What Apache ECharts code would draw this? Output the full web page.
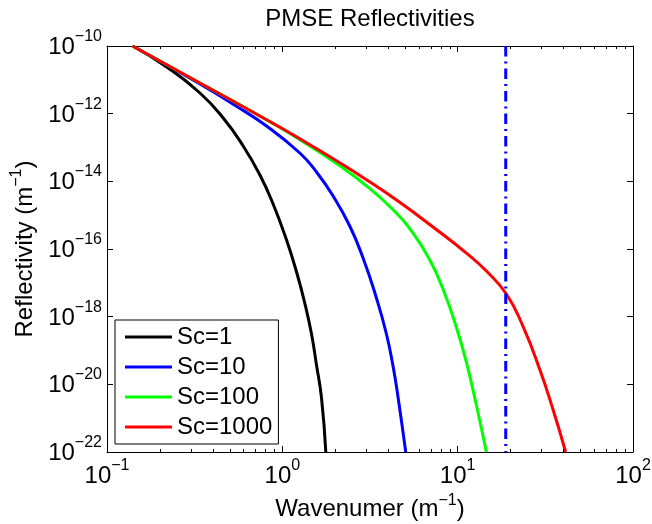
<!DOCTYPE html>
<html>
<head>
<meta charset="utf-8">
<script src="https://cdn.jsdelivr.net/npm/echarts@6/dist/echarts.min.js"></script>
<style>
  html, body { margin: 0; padding: 0; background: #fff; }
  #chart { width: 652px; height: 524px; }
</style>
</head>
<body>
<div id="chart"></div>
<script>
// PMSE reflectivity versus radar Bragg wavenumber for several Schmidt numbers
const seriesNames = ['Sc=1', 'Sc=10', 'Sc=100', 'Sc=1000'];

const wavenumberSc1 = [0.14, 0.219, 0.339, 0.460, 0.598, 0.745, 0.886, 1.057, 1.205, 1.343, 1.467, 1.566, 1.673, 1.77];
const reflectivitySc1 = [1e-10, 2.39e-11, 4.08e-12, 7.44e-13, 1.11e-13, 1.54e-14, 2.14e-15, 1.84e-16, 2.09e-17, 2.53e-18, 3.07e-19, 3.72e-20, 3.94e-21, 1e-22];

const wavenumberSc10 = [0.14, 0.339, 0.522, 0.813, 1.258, 1.566, 1.948, 2.424, 2.887, 3.441, 3.924, 4.279, 4.569, 5.056];
const reflectivitySc10 = [1e-10, 7.53e-12, 1.93e-12, 4.31e-13, 6.87e-14, 1.89e-14, 3.68e-15, 4.78e-16, 5.41e-17, 3.56e-18, 3.07e-19, 3.47e-20, 4.22e-21, 1e-22];

const wavenumberSc100 = [0.14, 0.339, 0.813, 1.258, 1.948, 3.018, 4.279, 5.564, 6.926, 8.245, 9.83, 11.21, 12.79, 14.58];
const reflectivitySc100 = [1e-10, 8.05e-12, 6.62e-13, 1.70e-13, 3.94e-14, 7.38e-15, 1.45e-15, 2.94e-16, 4.79e-17, 6.56e-18, 4.88e-19, 4.50e-20, 2.41e-21, 1e-22];

const wavenumberSc1000 = [0.14, 0.339, 0.813, 1.258, 1.948, 3.018, 4.672, 7.232, 11.21, 14.58, 18.95, 23.55, 29.33, 34.91, 41.3];
const reflectivitySc1000 = [1e-10, 8.05e-12, 6.62e-13, 1.82e-13, 4.67e-14, 1.12e-14, 2.40e-15, 4.47e-16, 7.6e-17, 2.23e-17, 4.67e-18, 5.28e-19, 2.83e-20, 1.86e-21, 1e-22];

// radar wavenumber marked by the dash-dot line
const radarWavenumber = 18.8;

// axis ranges, tick values and minor tick positions
const xRange = [0.1, 100];
const yRange = [1e-22, 1e-10];
const yTickValues = [1e-22, 1e-20, 1e-18, 1e-16, 1e-14, 1e-12, 1e-10];
const xMinorTicks = [0.2, 0.3, 0.4, 0.5, 0.6, 0.7, 0.8, 0.9,
                     2, 3, 4, 5, 6, 7, 8, 9,
                     20, 30, 40, 50, 60, 70, 80, 90];

const FONT = '"Liberation Sans", Arial, Helvetica, sans-serif';
const colors = ['#000000', '#0000ff', '#00ff00', '#ff0000'];

function pairs(xs, ys) { return xs.map((x, i) => [x, ys[i]]); }

function powerLabel(v) {
  const e = Math.round(Math.log10(v));
  const txt = e < 0 ? '\u2212' + Math.abs(e) : String(e);
  return '{b|10}{s|' + txt + '}';
}

// compact label boxes: the exponent is lifted with asymmetric padding
const tickRich = {
  b: { fontFamily: FONT, fontSize: 24, lineHeight: 4, padding: [3, 0, 0, 0], color: '#000' },
  s: { fontFamily: FONT, fontSize: 16, lineHeight: 4, padding: [0, 0, 19, 0], color: '#000' }
};
const nameRich = {
  b: { fontFamily: FONT, fontSize: 24, lineHeight: 32, color: '#000' },
  s: { fontFamily: FONT, fontSize: 16, lineHeight: 16, verticalAlign: 'top', color: '#000' }
};

const axisLine = { show: true, onZero: false, lineStyle: { color: '#000', width: 1 } };
const majorTick = { show: true, inside: true, length: 6, lineStyle: { color: '#000', width: 1 } };

const chart = echarts.init(document.getElementById('chart'), null, { renderer: 'canvas' });

const curveSeries = [
  pairs(wavenumberSc1, reflectivitySc1),
  pairs(wavenumberSc10, reflectivitySc10),
  pairs(wavenumberSc100, reflectivitySc100),
  pairs(wavenumberSc1000, reflectivitySc1000)
].map((data, i) => ({
  name: seriesNames[i],
  type: 'line',
  data: data,
  showSymbol: false,
  smooth: 0.5,
  color: colors[i],
  lineStyle: { color: colors[i], width: 3 },
  xAxisIndex: 0,
  yAxisIndex: 0,
  z: 3 + i
}));

const option = {
  backgroundColor: '#ffffff',
  animation: false,
  title: {
    text: 'PMSE Reflectivities',
    left: 370,
    textAlign: 'center',
    top: 7,
    padding: 0,
    textStyle: { fontFamily: FONT, fontSize: 24, fontWeight: 'normal', color: '#000' }
  },
  grid: { left: 107, right: 19, top: 46, bottom: 72, containLabel: false, outerBoundsMode: 'none' },
  legend: {
    data: seriesNames,
    orient: 'vertical',
    left: 115,
    top: 320,
    align: 'left',
    padding: [4, 6, 4, 10],
    itemGap: 4,
    itemWidth: 47,
    itemHeight: 3,
    icon: 'rect',
    borderColor: '#000',
    borderWidth: 1,
    backgroundColor: '#fff',
    selectedMode: false,
    textStyle: { fontFamily: FONT, fontSize: 24, lineHeight: 26, color: '#000' }
  },
  xAxis: [
    {
      type: 'log', logBase: 10, min: xRange[0], max: xRange[1],
      position: 'bottom',
      name: '{b|Wavenumer (m}{s|\u22121}{b|)}',
      nameLocation: 'middle',
      nameGap: 41,
      nameMoveOverlap: false,
      nameTextStyle: { rich: nameRich },
      axisLine: axisLine,
      axisTick: majorTick,
      splitLine: { show: false },
      axisLabel: { margin: 21, formatter: powerLabel, rich: tickRich, hideOverlap: false,
                   showMinLabel: true, showMaxLabel: true }
    },
    {
      type: 'log', logBase: 10, min: xRange[0], max: xRange[1],
      position: 'top',
      axisLine: axisLine,
      axisTick: majorTick,
      splitLine: { show: false },
      axisLabel: { show: false }
    }
  ],
  yAxis: [
    {
      type: 'log', logBase: 10, min: yRange[0], max: yRange[1],
      interval: 2,
      position: 'left',
      name: '{b|Reflectivity (m}{s|\u22121}{b|)}',
      nameLocation: 'middle',
      nameGap: 66,
      nameMoveOverlap: false,
      nameTextStyle: { rich: nameRich },
      axisLine: axisLine,
      axisTick: Object.assign({ customValues: yTickValues }, majorTick),
      splitLine: { show: false },
      axisLabel: { margin: 5, formatter: powerLabel, rich: tickRich, hideOverlap: false,
                   customValues: yTickValues, showMinLabel: true, showMaxLabel: true }
    },
    {
      type: 'log', logBase: 10, min: yRange[0], max: yRange[1],
      interval: 2,
      position: 'right',
      axisLine: axisLine,
      axisTick: Object.assign({ customValues: yTickValues }, majorTick),
      splitLine: { show: false },
      axisLabel: { show: false }
    }
  ],
  series: [
    ...curveSeries,
    {
      name: 'radar',
      type: 'line',
      data: [[radarWavenumber, yRange[1]], [radarWavenumber, yRange[0]]],
      showSymbol: false,
      color: '#0000ff',
      lineStyle: { color: '#0000ff', width: 3, type: [10.5, 5, 2, 5], cap: 'butt' },
      z: 10
    },
    {
      // minor ticks of the logarithmic wavenumber axis, bottom and top edges
      name: 'minorTicks',
      type: 'custom',
      silent: true,
      clip: false,
      data: xMinorTicks.map(v => [v, yRange[0]]),
      renderItem: function (params, api) {
        const v = api.value(0);
        const b = api.coord([v, yRange[0]]);
        const t = api.coord([v, yRange[1]]);
        const x = Math.round(b[0]) + 0.5;
        const st = { stroke: '#000', lineWidth: 1 };
        return {
          type: 'group',
          children: [
            { type: 'line', shape: { x1: x, y1: b[1], x2: x, y2: b[1] - 3 }, style: st },
            { type: 'line', shape: { x1: x, y1: t[1], x2: x, y2: t[1] + 3 }, style: st }
          ]
        };
      },
      z: 12
    }
  ]
};

chart.setOption(option);
</script>
</body>
</html>
